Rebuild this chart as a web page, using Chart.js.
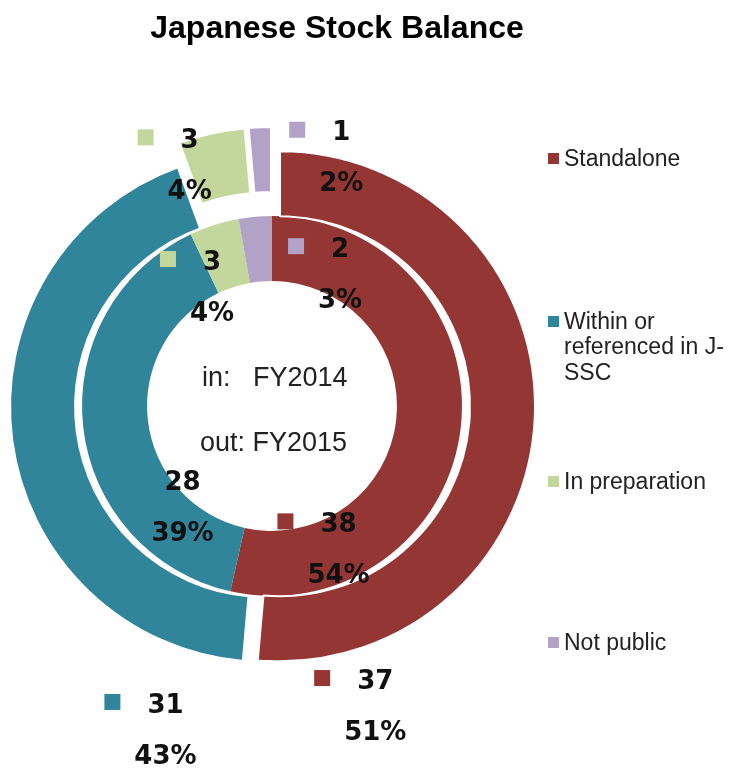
<!DOCTYPE html>
<html>
<head>
<meta charset="utf-8">
<script src="https://cdn.jsdelivr.net/npm/chart.js@4.4.1/dist/chart.umd.min.js"></script>
<style>
  body { margin: 0; background: #fff; }
  #wrap { position: relative; width: 742px; height: 782px; overflow: hidden; }
  #title {
    position: absolute; left: 0; top: 11px; width: 674px; text-align: center;
    font: bold 32px "Liberation Sans", Arial, sans-serif; line-height: 32px; color: #000;
  }
  .leg { position: absolute; left: 564px; font: 23px "Liberation Sans", Arial, sans-serif; line-height: 25.5px; color: #222; }
  .leg i { position: absolute; left: -16px; top: 7px; width: 11px; height: 11px; }
</style>
</head>
<body>
<div id="wrap">
  <canvas id="donut"></canvas>
  <div id="title">Japanese Stock Balance</div>
</div>
<script>
// data
var categories = ["Standalone", "Within or referenced in J-SSC", "In preparation", "Not public"];
var fy2015 = [37, 31, 3, 1];   // outer ring
var fy2014 = [38, 28, 3, 2];   // inner ring
var pct2015 = ["51%", "43%", "4%", "2%"];
var pct2014 = ["54%", "39%", "4%", "3%"];
var legendLines = [["Standalone"], ["Within or", "referenced in J-", "SSC"], ["In preparation"], ["Not public"]];

var colors = ["#943634", "#31859b", "#c3d69b", "#b3a2c7"];

// how far each outer slice is pulled out (px)
var explodeOut = [8, 7, 24, 24];
// label nudges from the slice centre (px)
var outNudge = [[-127, 266], [121, 270], [-29, -24], [80, -26]];
var inNudge = [[-90, 102], [67, 60], [-12, 7], [82, 1]];
var legendTop = [145.5, 308.5, 468.5, 629.5];

// legend
var wrap = document.getElementById("wrap");
for (var i = 0; i < categories.length; i++) {
  var d = document.createElement("div");
  d.className = "leg";
  d.style.top = legendTop[i] + "px";
  d.innerHTML = '<i style="background:' + colors[i] + '"></i>' + legendLines[i].join("<br>");
  wrap.appendChild(d);
}

function midOf(arc) {
  return (arc.startAngle + arc.endAngle) / 2;
}

var explodePlugin = {
  id: "explode",
  beforeDatasetDraw: function (chart, args) {
    if (args.index !== 0) return;
    var ctx = chart.ctx;
    args.meta.data.forEach(function (arc, i) {
      var a = midOf(arc);
      ctx.save();
      ctx.translate(Math.cos(a) * explodeOut[i], Math.sin(a) * explodeOut[i]);
      arc.draw(ctx);
      ctx.restore();
    });
    return false;
  }
};

function drawLabel(ctx, x, y, value, pct, color) {
  ctx.font = "bold 26px 'DejaVu Sans'";
  ctx.textBaseline = "middle";
  ctx.fillStyle = "#111";
  var txt = String(value);
  var w = ctx.measureText(txt).width;
  var left = x - w / 2;
  ctx.textAlign = "left";
  ctx.fillText(txt, left, y);
  ctx.textAlign = "center";
  ctx.fillText(pct, x, y + 51);
  ctx.fillStyle = color;
  ctx.fillRect(left - 35 - 8, y - 4 - 8, 16, 16);
}

var labelPlugin = {
  id: "labels",
  afterDatasetsDraw: function (chart) {
    var ctx = chart.ctx;
    ctx.save();
    var outer = chart.getDatasetMeta(0).data;
    var inner = chart.getDatasetMeta(1).data;
    outer.forEach(function (arc, i) {
      var p = arc.tooltipPosition();
      var a = midOf(arc);
      var x = p.x + Math.cos(a) * explodeOut[i] + outNudge[i][0];
      var y = p.y + Math.sin(a) * explodeOut[i] + outNudge[i][1];
      drawLabel(ctx, x, y, fy2015[i], pct2015[i], colors[i]);
    });
    inner.forEach(function (arc, i) {
      var p = arc.tooltipPosition();
      drawLabel(ctx, p.x + inNudge[i][0], p.y + inNudge[i][1], fy2014[i], pct2014[i], colors[i]);
    });
    // centre text
    var c = outer[0];
    ctx.font = "27px 'Liberation Sans'";
    ctx.fillStyle = "#222";
    ctx.textAlign = "left";
    ctx.textBaseline = "middle";
    ctx.fillText("in:   FY2014", c.x - 70, c.y - 27);
    ctx.fillText("out: FY2015", c.x - 72, c.y + 38);
    ctx.restore();
  }
};

new Chart(document.getElementById("donut"), {
  type: "doughnut",
  data: {
    labels: categories,
    datasets: [
      {
        label: "FY2015",
        data: fy2015,
        backgroundColor: colors,
        borderColor: "#ffffff",
        borderWidth: 2,
        hoverOffset: 0,
        radius: 255,
        cutout: "49%",
      },
      {
        label: "FY2014",
        data: fy2014,
        backgroundColor: colors,
        borderWidth: 0,
        hoverOffset: 0,
        radius: 255,
        cutout: "49%",
      },
    ],
  },
  options: {
    responsive: true,
    maintainAspectRatio: false,
    animation: false,
    events: [],
    layout: { padding: { left: 0, right: 198, top: 100, bottom: 70 } },
    plugins: {
      legend: { display: false },
      tooltip: { enabled: false },
      title: { display: false },
    },
  },
  plugins: [explodePlugin, labelPlugin],
});
</script>
</body>
</html>
